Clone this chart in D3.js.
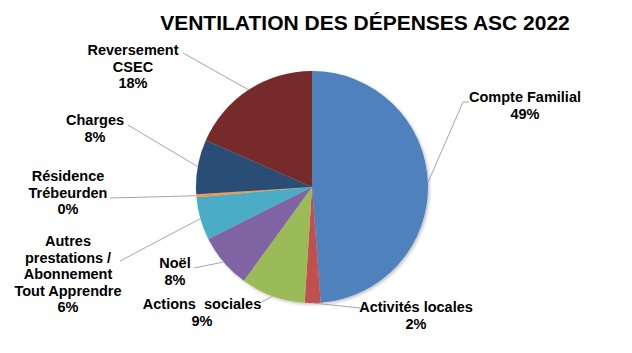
<!DOCTYPE html>
<html>
<head>
<meta charset="utf-8">
<script src="https://cdn.jsdelivr.net/npm/d3@7"></script>
<style>
  body { margin: 0; background: white; }
  text { font-family: "Liberation Sans", Arial, sans-serif; font-weight: bold; fill: #000; }
</style>
</head>
<body>
<div id="chart"></div>
<script>
let W = 632
let H = 353

// données (lecture du graphique)
let categories = ["Compte Familial", "Activités locales", "Actions  sociales", "Noël",
    "Autres\nprestations /\nAbonnement\nTout Apprendre", "Résidence\nTrébeurden", "Charges", "Reversement\nCSEC"]
let values = [48.8, 2.2, 9.0, 7.6, 6.0, 0.4, 7.6, 18.4]
let colors = ["#4F81BD", "#C0504D", "#9BBB59", "#8064A2", "#4BACC6", "#F79646", "#2C4D75", "#772C2A"]

// placement des étiquettes : centre x, ligne de base 1re ligne, départ du trait
let labelPos = [
    { x: 525, y: 102, lx: 469, ly: 102, elbow: 463 },
    { x: 416, y: 312, lx: 360, ly: 308 },
    { x: 202, y: 309, lx: 260, ly: 303 },
    { x: 175, y: 268, lx: 194, ly: 268 },
    { x: 68, y: 246, lx: 120, ly: 261 },
    { x: 68, y: 181, lx: 110, ly: 198 },
    { x: 95, y: 125, lx: 128, ly: 125 },
    { x: 133, y: 55, lx: 183, ly: 53 }
]

let cx = 312, cy = 187, R = 116
let lineH = 16.6

let svg = d3.select("#chart").append("svg")
    .attr("width", W).attr("height", H)

// ombre légère
let defs = svg.append("defs")
defs.append("filter").attr("id", "shadow")
    .attr("x", "-20%").attr("y", "-20%").attr("width", "140%").attr("height", "140%")
    .append("feDropShadow")
    .attr("dx", 1.5).attr("dy", 1.5).attr("stdDeviation", 1.5)
    .attr("flood-color", "#000").attr("flood-opacity", 0.25)

// titre
svg.append("text")
    .attr("x", 365).attr("y", 30)
    .attr("text-anchor", "middle")
    .style("font-size", "21px")
    .text("VENTILATION DES DÉPENSES ASC 2022")

let total = d3.sum(values)
let pie = d3.pie().sort(null).value(d => d)
let arcs = pie(values)
let arc = d3.arc().innerRadius(0).outerRadius(R)

let g = svg.append("g").attr("transform", `translate(${cx},${cy})`)
g.append("g").attr("filter", "url(#shadow)")
    .selectAll("path")
    .data(arcs)
    .join("path")
    .attr("d", arc)
    .attr("fill", (d, i) => colors[i])

// traits de rappel
arcs.forEach(function (d, i) {
    let a = (d.startAngle + d.endAngle) / 2
    let px = cx + R * Math.sin(a)
    let py = cy - R * Math.cos(a)
    let p = labelPos[i]
    let pts = [[p.lx, p.ly]]
    if (p.elbow) pts.push([p.elbow, p.ly])
    pts.push([px, py])
    svg.append("path")
        .attr("d", d3.line()(pts))
        .attr("fill", "none")
        .attr("stroke", "#a6a6a6")
        .attr("stroke-width", 1)
})

// étiquettes
arcs.forEach(function (d, i) {
    let p = labelPos[i]
    let lines = categories[i].split("\n")
    lines.push(Math.round(values[i] / total * 100) + "%")
    let t = svg.append("text")
        .attr("text-anchor", "middle")
        .style("font-size", "14.5px")
        .style("white-space", "pre")
    lines.forEach(function (l, j) {
        t.append("tspan")
            .attr("x", p.x)
            .attr("y", p.y + j * lineH)
            .text(l)
    })
})
</script>
</body>
</html>
